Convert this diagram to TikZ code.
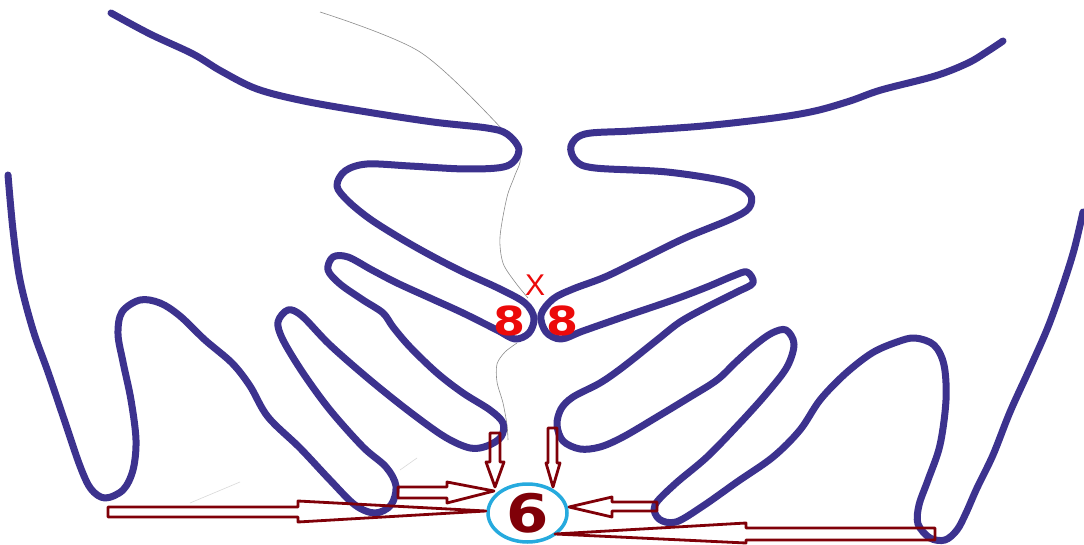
\documentclass[tikz,border=0pt]{standalone}
\usepackage{fontspec}
\setmainfont{Liberation Sans}
\newfontfamily\dejabold{DejaVu Sans}[BoldFont={DejaVu Sans Bold}]
\usetikzlibrary{shapes.geometric}
\definecolor{handc}{RGB}{60,50,142}
\definecolor{arrowc}{RGB}{128,0,8}
\definecolor{ringc}{RGB}{38,170,222}
\definecolor{labelc}{RGB}{236,10,10}
\tikzset{
  hand/.style={draw=handc, line width=7pt, line cap=round, line join=round},
  pencil/.style={draw=black!45, line width=0.6pt},
  faint/.style={draw=black!15, line width=0.6pt},
  blockarrow/.style={draw=arrowc, line width=2.8pt, line join=round},
  eightlabel/.style={text=labelc, inner sep=0pt, font=\dejabold\bfseries\fontsize{40}{40}\selectfont},
  xlabel/.style={text=labelc, inner sep=0pt, font=\fontsize{30}{30}\selectfont},
}
\begin{document}
\begin{tikzpicture}[x=1pt,y=-1pt]
\fill[white] (0,0) rectangle (1084,545);
\useasboundingbox (0,0) rectangle (1084,545);

% pencil guide line
\draw[pencil] plot[smooth, tension=0.5] coordinates {(320,12) (420,52) (503,130) (520,157) (515,175) (507,197) (500,237) (503,263) (515,282) (528,298)};
\draw[pencil] plot[smooth, tension=0.5] coordinates {(517,343) (505,352) (497,364) (497,382) (503,403) (507,425) (508,440)};
\draw[faint] (400,470) -- (417,458);
\draw[faint] (190,503) -- (240,482);

% left hand
\draw[hand] plot[smooth, tension=0.55] coordinates {
(8,175) (13,230) (20,280) (33,330) (48,372) (65,422) (80,466) (91,489) (105,498) (123,490) (133,470) (136,440) (131,400) (123,362) (118,334) (122,312) (140,300) (160,303) (180,316) (205,340) (232,363) (250,386) (268,417) (300,448) (330,480) (355,505) (375,513) (391,505) (396,486) (386,467) (363,447) (330,410) (303,373) (283,340) (278,322) (288,310) (302,316) (330,345) (370,380) (410,412) (445,437) (470,448) (487,446) (501,437) (503,423) (490,410) (463,393) (437,373) (410,347) (393,327) (383,313) (363,300) (340,284) (328,270) (333,257) (348,257) (372,270) (397,283) (430,298) (463,313) (497,330) (515,339) (529,333) (534,318) (525,303) (500,289) (463,272) (430,255) (400,238) (370,219) (348,201) (337,186) (345,171) (367,164) (410,166) (467,169) (507,166) (519,150) (507,134) (487,128) (433,122) (367,112) (304,101) (257,89) (221,71) (193,54) (150,34) (111,13)};

% right hand
\draw[hand] plot[smooth, tension=0.55] coordinates {
(1003,41) (988,51) (968,63) (935,76) (881,90) (850,101) (815,111) (774,118) (703,126) (631,131) (585,134) (571,146) (576,161) (595,168) (667,172) (729,182) (750,194) (749,208) (731,219) (685,238) (640,260) (605,277) (573,289) (553,299) (541,315) (546,332) (561,339) (583,331) (623,317) (673,300) (707,287) (733,276) (747,272) (753,283) (737,292) (707,307) (680,322) (657,340) (623,367) (600,383) (573,397) (561,409) (557,425) (563,441) (580,449) (600,447) (623,437) (657,417) (690,397) (717,380) (736,362) (755,345) (772,333) (786,330) (794,344) (787,367) (767,393) (740,423) (707,457) (675,484) (655,505) (659,519) (676,522) (703,506) (737,482) (773,457) (800,430) (820,400) (845,374) (872,353) (897,342) (915,338) (934,345) (944,365) (946,400) (940,445) (928,480) (919,505) (918,524) (930,538) (945,540) (957,530) (966,513) (977,488) (993,455) (1010,412) (1030,368) (1048,327) (1062,288) (1074,250) (1083,212)};

% labels
\node[xlabel] (xmark) at (535,285) {X};
\node[eightlabel] (eightL) at (509,321) {\scalebox{1.15}[1]{8}};
\node[eightlabel] (eightR) at (562,321) {\scalebox{1.15}[1]{8}};

% target ellipse with 6
\node[ellipse, draw=ringc, line width=3.5pt, minimum width=79pt, minimum height=58pt, inner sep=0pt,
      text=arrowc, font=\dejabold\bfseries\fontsize{53}{53}\selectfont] (six) at (527.5,513) {\scalebox{1.15}[1]{6}};

% hollow block arrows pointing at the 6
\coordinate (t1) at (486,511);
\coordinate (t2) at (555,534);
\coordinate (t3) at (494,491);
\coordinate (t4) at (569,507);
\coordinate (t5) at (495,487);
\coordinate (t6) at (553,487);
\draw[blockarrow] (108,507) -- (298,507) -- (298,501) -- (t1) -- (298,522) -- (298,517) -- (108,517) -- cycle;
\draw[blockarrow] (935,528) -- (746,528) -- (746,523) -- (t2) -- (746,543) -- (746,540) -- (935,540) -- cycle;
\draw[blockarrow] (398,487) -- (447,487) -- (447,482) -- (t3) -- (447,503) -- (447,498) -- (398,498) -- cycle;
\draw[blockarrow] (657,502) -- (612,502) -- (612,497) -- (t4) -- (612,517) -- (612,511) -- (657,511) -- cycle;
\draw[blockarrow] (490,433) -- (500,433) -- (500,462) -- (504,462) -- (t5) -- (486,462) -- (490,462) -- cycle;
\draw[blockarrow] (548,428) -- (557,428) -- (557,463) -- (560,463) -- (t6) -- (546,463) -- (548,463) -- cycle;
\end{tikzpicture}
\end{document}
